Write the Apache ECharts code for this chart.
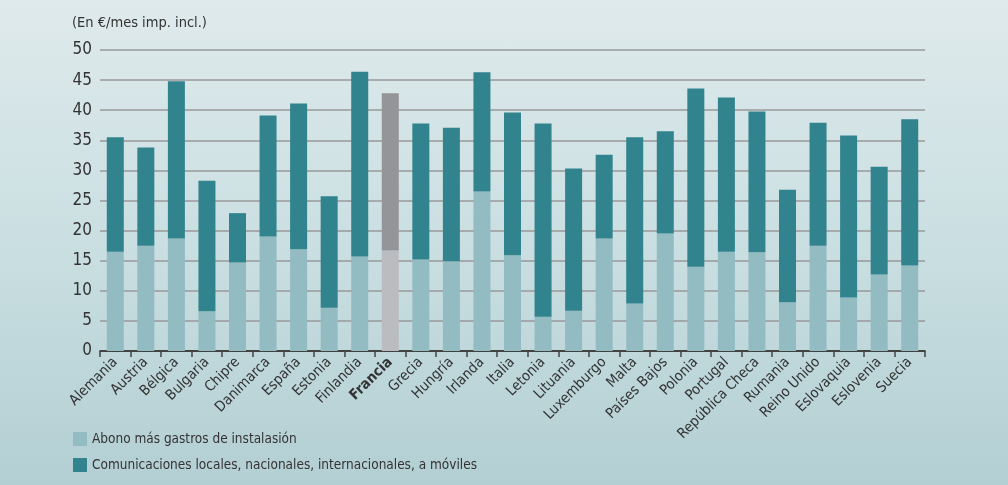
<!DOCTYPE html>
<html>
<head>
<meta charset="utf-8">
<script src="https://cdn.jsdelivr.net/npm/echarts@6/dist/echarts.min.js"></script>
<style>
html,body{margin:0;padding:0;}
#c{width:1008px;height:485px;background:linear-gradient(180deg,#dfeaeb 0%,#cadfe2 50%,#b3cfd3 100%);}
</style>
</head>
<body>
<div id="c"></div>
<script>
const categories = ['Alemania','Austria','Bélgica','Bulgaria','Chipre','Danimarca','España','Estonia','Finlandia','Francia','Grecia','Hungría','Irlanda','Italia','Letonia','Lituania','Luxemburgo','Malta','Países Bajos','Polonia','Portugal','República Checa','Rumania','Reino Unido','Eslovaquia','Eslovenia','Suecia'];
const abono = [16.5,17.5,18.7,6.6,14.7,19.0,16.9,7.2,15.7,16.7,15.2,14.9,26.5,15.9,5.7,6.7,18.7,7.9,19.5,14.0,16.5,16.4,8.1,17.5,8.9,12.7,14.2];
const totales = [35.5,33.8,44.8,28.3,22.9,39.1,41.1,25.7,46.4,42.8,37.8,37.1,46.3,39.6,37.8,30.3,32.6,35.5,36.5,43.6,42.1,39.8,26.8,37.9,35.8,30.6,38.5];
const comunicaciones = totales.map((t,i)=>+(t-abono[i]).toFixed(1));
const yTicks = [0,5,10,15,20,25,30,35,40,45,50];
const highlight = 'Francia';

const FONT = '"Liberation Sans Narrow","DejaVu Sans Condensed","Liberation Sans",sans-serif';
const chart = echarts.init(document.getElementById('c'), null, {renderer:'canvas'});
chart.setOption({
  animation:false,
  backgroundColor:'transparent',
  title:{text:'(En €/mes imp. incl.)',left:67,top:11,textStyle:{fontFamily:FONT,fontSize:14.5,fontWeight:'normal',color:'#333'}},
  legend:{
    orient:'vertical',left:68,top:427,itemWidth:14,itemHeight:14,itemGap:12,
    icon:'rect',
    textStyle:{fontFamily:FONT,fontSize:13.5,color:'#333'},
    data:['Abono más gastros de instalasión','Comunicaciones locales, nacionales, internacionales, a móviles']
  },
  grid:{left:100,right:83,top:50,bottom:134,containLabel:false},
  xAxis:{
    type:'category',data:categories,
    axisLine:{lineStyle:{color:'#222',width:1.5}},
    axisTick:{show:true,length:6,lineStyle:{color:'#444',width:1.5}},
    axisLabel:{rotate:45,interval:0,margin:9,fontFamily:FONT,fontSize:14.5,color:'#333',
      formatter:v=>v===highlight?'{b|'+v+'}':v,
      rich:{b:{fontWeight:'bold',fontFamily:FONT,fontSize:14.5,color:'#333'}}}
  },
  yAxis:{
    type:'value',min:yTicks[0],max:yTicks[yTicks.length-1],interval:5,
    axisLine:{show:false},axisTick:{show:false},
    axisLabel:{fontFamily:FONT,fontSize:17,color:'#333',margin:8},
    splitLine:{lineStyle:{color:'#999',width:1.5}}
  },
  series:[
    {name:'Abono más gastros de instalasión',type:'bar',stack:'t',barWidth:17,
     itemStyle:{color:'#93bbc2'},
     data:abono.map((v,i)=>categories[i]===highlight?{value:v,itemStyle:{color:'#bbbcc0'}}:v)},
    {name:'Comunicaciones locales, nacionales, internacionales, a móviles',type:'bar',stack:'t',barWidth:17,
     itemStyle:{color:'#31838d'},
     data:comunicaciones.map((v,i)=>categories[i]===highlight?{value:v,itemStyle:{color:'#939598'}}:v)}
  ]
});
</script>
</body>
</html>
